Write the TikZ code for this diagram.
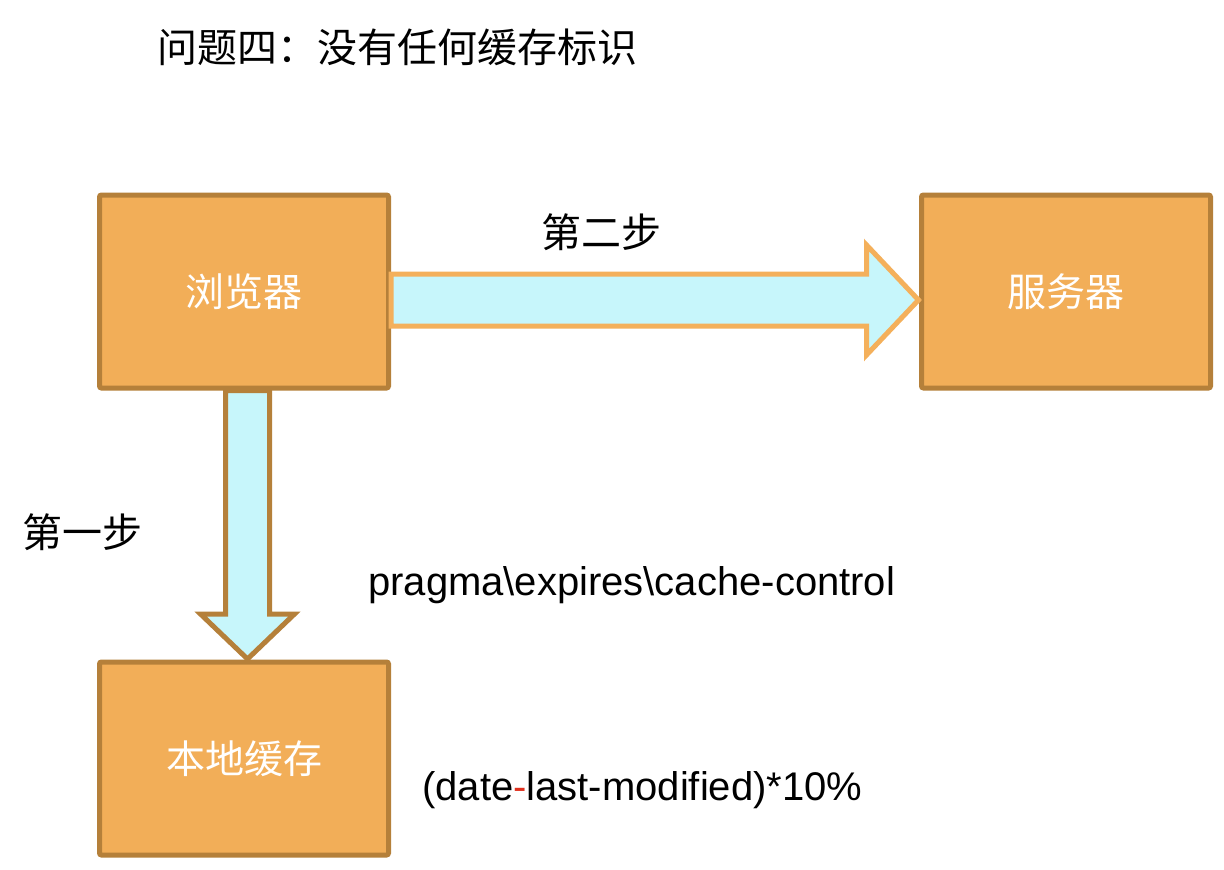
\documentclass[tikz,border=0pt]{standalone}
\usepackage{fontspec}
\setmainfont{Liberation Sans}
\newfontfamily\cjk{Noto Sans CJK SC}
\usetikzlibrary{calc}
\definecolor{boxfill}{HTML}{F2AE58}
\definecolor{boxline}{HTML}{B5803A}
\definecolor{arrfill}{HTML}{C7F6FB}
\definecolor{arrline}{HTML}{F4B05B}
\definecolor{dashred}{HTML}{E0301E}
\begin{document}
\begin{tikzpicture}[x=1pt,y=-1pt,
  boxnode/.style={draw=boxline,fill=boxfill,line width=5pt,rounded corners=2pt,
    minimum width=289pt,minimum height=193pt,inner sep=0pt,
    text=white,font=\cjk\fontsize{39}{42}\selectfont},
  lbl/.style={inner sep=0pt,font=\cjk\fontsize{40}{44}\selectfont},
  latin/.style={inner sep=0pt,font=\fontsize{40}{46}\selectfont}]
\useasboundingbox (0,0) rectangle (1224,870);
\fill[white] (0,0) rectangle (1224,870);

\node[boxnode] (b) at (244,291.5) {浏览器};
\node[boxnode] (s) at (1066,291.5) {服务器};
\node[boxnode] (c) at (244,758.5) {本地缓存};

% horizontal block arrow (browser -> server)
\coordinate (hs) at ($(b.east)+(0,8.5)$);
\coordinate (ht) at ($(s.west)+(-0.5,8.5)$);
\draw[line width=5pt,draw=arrline,fill=arrfill,line join=miter]
  ($(hs)+(0,-26)$) -- ($(ht)+(-52,-26)$) -- ($(ht)+(-52,-55)$) -- (ht)
  -- ($(ht)+(-52,55)$) -- ($(ht)+(-52,26)$) -- ($(hs)+(0,26)$) -- cycle;

% vertical block arrow (browser -> local cache)
\coordinate (vs) at ($(b.south)+(3.5,0)$);
\coordinate (vt) at ($(c.north)+(3.5,-0.5)$);
\draw[line width=5pt,draw=boxline,fill=arrfill,line join=miter]
  ($(vs)+(-22,0)$) -- ($(vt)+(-22,-45)$) -- ($(vt)+(-47,-45)$) -- (vt)
  -- ($(vt)+(47,-45)$) -- ($(vt)+(22,-45)$) -- ($(vs)+(22,0)$) -- cycle;

\node[lbl] (title) at (397.5,47) {问题四：没有任何缓存标识};
\node[lbl] (step2) at (601,232) {第二步};
\node[lbl] (step1) at (82,532) {第一步};
\node[latin,anchor=west] (hdr) at (368,585) {pragma\textbackslash expires\textbackslash cache-control};
\node[latin,anchor=west] (fml) at (422,790) {(date\textcolor{dashred}{-}last-modified)*10\%};
\end{tikzpicture}
\end{document}
